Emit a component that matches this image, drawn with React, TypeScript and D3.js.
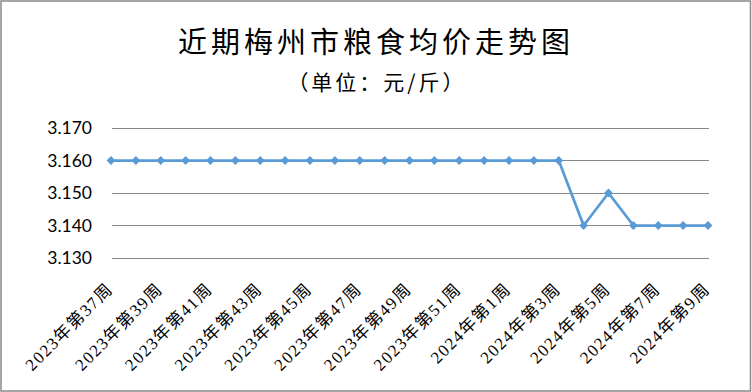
import React from "react";
import * as d3 from "d3";

const categories: string[] = [
  "2023年第37周", "2023年第38周", "2023年第39周", "2023年第40周", "2023年第41周",
  "2023年第42周", "2023年第43周", "2023年第44周", "2023年第45周", "2023年第46周",
  "2023年第47周", "2023年第48周", "2023年第49周", "2023年第50周", "2023年第51周",
  "2023年第52周", "2024年第1周", "2024年第2周", "2024年第3周", "2024年第4周",
  "2024年第5周", "2024年第6周", "2024年第7周", "2024年第8周", "2024年第9周",
];
const prices: number[] = [
  3.16, 3.16, 3.16, 3.16, 3.16, 3.16, 3.16, 3.16, 3.16, 3.16,
  3.16, 3.16, 3.16, 3.16, 3.16, 3.16, 3.16, 3.16, 3.16, 3.14,
  3.15, 3.14, 3.14, 3.14, 3.14,
];
const yTicks: number[] = [3.13, 3.14, 3.15, 3.16, 3.17];
const title = "近期梅州市粮食均价走势图";
const subtitle = "（单位：元/斤）";

const W = 752;
const H = 392;

export default function App() {
  const x = d3.scalePoint<string>().domain(categories).range([111, 708]);
  const y = d3.scaleLinear().domain([3.13, 3.17]).range([258, 128]);
  const line = d3
    .line<number>()
    .x((_, i) => x(categories[i]) as number)
    .y((d) => y(d));
  const color = "#5B9BD5";
  const diamond = d3.symbol().type(d3.symbolDiamond2).size(50)() as string;

  return (
    <div style={{ position: "absolute", left: 0, top: 0 }}>
      <svg width={W} height={H} style={{ display: "block" }}>
        <rect x={0} y={0} width={W} height={H} fill="#fff" />
        <rect x={1} y={1} width={W - 2.5} height={H - 2} fill="none" stroke="#898989" strokeWidth={1.5} />
        <text
          x={376}
          y={53}
          textAnchor="middle"
          fontFamily="'Noto Sans CJK SC', sans-serif"
          fontSize={29}
          letterSpacing={4}
          fill="#000"
        >
          {title}
        </text>
        <text
          x={377}
          y={90}
          textAnchor="middle"
          fontFamily="'Noto Sans CJK SC', sans-serif"
          fontSize={21}
          letterSpacing={3}
          fill="#000"
        >
          {subtitle}
        </text>
        {yTicks.map((t) => (
          <g key={t}>
            <line x1={112} x2={709} y1={Math.round(y(t)) + 0.5} y2={Math.round(y(t)) + 0.5} stroke="#868686" strokeWidth={1} />
            <text
              x={92}
              y={y(t) + 6}
              textAnchor="end"
              fontFamily="Lato, sans-serif"
              fontSize={17.5}
              fill="#000"
            >
              {d3.format(".3f")(t)}
            </text>
          </g>
        ))}
        <path d={line(prices) as string} fill="none" stroke={color} strokeWidth={2.75} strokeLinejoin="round" />
        {prices.map((p, i) => (
          <path key={i} d={diamond} transform={`translate(${x(categories[i])},${y(p)})`} fill={color} />
        ))}
        {categories.map((c, i) =>
          i % 2 === 0 ? (
            <text
              key={c}
              transform={`translate(${(x(c) as number) + 3},290) rotate(-45)`}
              textAnchor="end"
              fontFamily="'Liberation Serif', 'Noto Sans CJK SC', serif"
              fontSize={17}
              letterSpacing={1.5}
              fill="#000"
            >
              {c}
            </text>
          ) : null
        )}
      </svg>
    </div>
  );
}
